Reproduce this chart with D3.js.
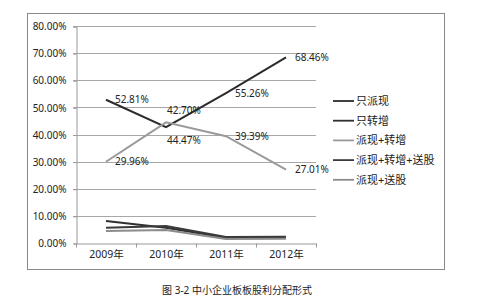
<!DOCTYPE html>
<html>
<head>
<meta charset="utf-8">
<script src="https://cdn.jsdelivr.net/npm/d3@7"></script>
<style>
  body { margin: 0; background: #fff; }
  text { font-family: "Noto Sans", "Noto Sans CJK SC", sans-serif; fill: #222; }
</style>
</head>
<body>
<svg id="chart" width="477" height="304"></svg>
<script>
  // ---------------- data ----------------
  const years = ["2009年", "2010年", "2011年", "2012年"];
  const seriesNames = ["只派现", "只转增", "派现+转增", "派现+转增+送股", "派现+送股"];
  const cashOnly = [52.81, 42.70, 55.26, 68.46];
  const bonusOnly = [8.1, 5.6, 1.9, 2.0];
  const cashBonus = [29.96, 44.47, 39.39, 27.01];
  const cashBonusStock = [5.6, 6.3, 2.2, 2.3];
  const cashStock = [4.4, 4.8, 1.5, 1.6];
  const yTicks = [0, 10, 20, 30, 40, 50, 60, 70, 80];
  const caption = "图 3-2  中小企业板板股利分配形式";

  const seriesValues = [cashOnly, bonusOnly, cashBonus, cashBonusStock, cashStock];
  const colors = ["#2b2b2b", "#303030", "#9a9a9a", "#3a3a3a", "#8c8c8c"];
  const labelled = [true, false, true, false, false];

  const svg = d3.select("#chart");

  // outer frame
  svg.append("rect")
    .attr("x", 27.5).attr("y", 13.5)
    .attr("width", 417).attr("height", 256)
    .attr("fill", "none").attr("stroke", "#8a8a8a");

  const x = d3.scaleBand().domain(years).range([76, 316]);
  const y = d3.scaleLinear().domain([0, 80]).range([243, 26]);
  const cx = d => x(d) + x.bandwidth() / 2;

  // gridlines
  svg.append("g").selectAll("line")
    .data(yTicks.slice(1))
    .join("line")
    .attr("x1", 73).attr("x2", 316)
    .attr("y1", d => Math.round(y(d)) + 0.5).attr("y2", d => Math.round(y(d)) + 0.5)
    .attr("stroke", "#a8a8a8");

  // y axis
  const yAxis = svg.append("g")
    .attr("transform", "translate(76.5,0.5)")
    .call(d3.axisLeft(y).tickValues(yTicks).tickSize(3).tickPadding(7)
      .tickFormat(d => d.toFixed(2) + "%"));
  yAxis.select(".domain").attr("stroke", "#999");
  yAxis.selectAll(".tick line").attr("stroke", "#999");
  yAxis.selectAll("text").attr("font-size", 10).attr("fill", "#222");

  // x axis
  const xAxis = svg.append("g")
    .attr("transform", "translate(0.5,243.5)")
    .call(d3.axisBottom(x).tickSize(0).tickPadding(7));
  xAxis.select(".domain").attr("stroke", "#999");
  xAxis.selectAll("text").attr("font-size", 10.5).attr("fill", "#222");
  xAxis.selectAll(".bound")
    .data(years.concat(["end"]))
    .join("line")
    .attr("x1", (d, i) => i < years.length ? x(d) : x.range()[1])
    .attr("x2", (d, i) => i < years.length ? x(d) : x.range()[1])
    .attr("y1", 0).attr("y2", 4)
    .attr("stroke", "#999");

  // lines
  const line = d3.line()
    .x((d, i) => cx(years[i]))
    .y(d => y(d));

  svg.append("g").selectAll("path")
    .data(seriesValues)
    .join("path")
    .attr("d", d => line(d))
    .attr("fill", "none")
    .attr("stroke", (d, i) => colors[i])
    .attr("stroke-width", 2);

  // data labels
  const labels = [];
  seriesValues.forEach((vals, s) => {
    if (!labelled[s]) return;
    vals.forEach((v, i) => labels.push({ s, i, v }));
  });
  svg.append("g").selectAll("text")
    .data(labels)
    .join("text")
    .attr("x", d => cx(years[d.i]) + (d.i === 1 ? 1 : 9))
    .attr("y", d => {
      if (d.i === 1) return y(d.v) + (d.s === 0 ? -17 : 18);
      return y(d.v);
    })
    .attr("dy", "0.35em")
    .attr("font-size", 10)
    .text(d => d.v.toFixed(2) + "%");

  // legend
  const legend = svg.append("g").selectAll("g")
    .data(seriesNames)
    .join("g")
    .attr("transform", (d, i) => `translate(333,${101 + i * 19.7})`);
  legend.append("line")
    .attr("x1", 0).attr("x2", 21)
    .attr("stroke", (d, i) => colors[i])
    .attr("stroke-width", 1.8);
  legend.append("text")
    .attr("x", 23).attr("dy", "0.35em")
    .attr("font-size", 11)
    .attr("font-family", "Noto Sans CJK SC")
    .text(d => d);

  // caption
  svg.append("text")
    .attr("x", 237).attr("y", 290)
    .attr("text-anchor", "middle")
    .attr("dy", "0.35em")
    .attr("font-size", 10)
    .attr("font-family", "Noto Sans CJK SC")
    .text(caption);
</script>
</body>
</html>
